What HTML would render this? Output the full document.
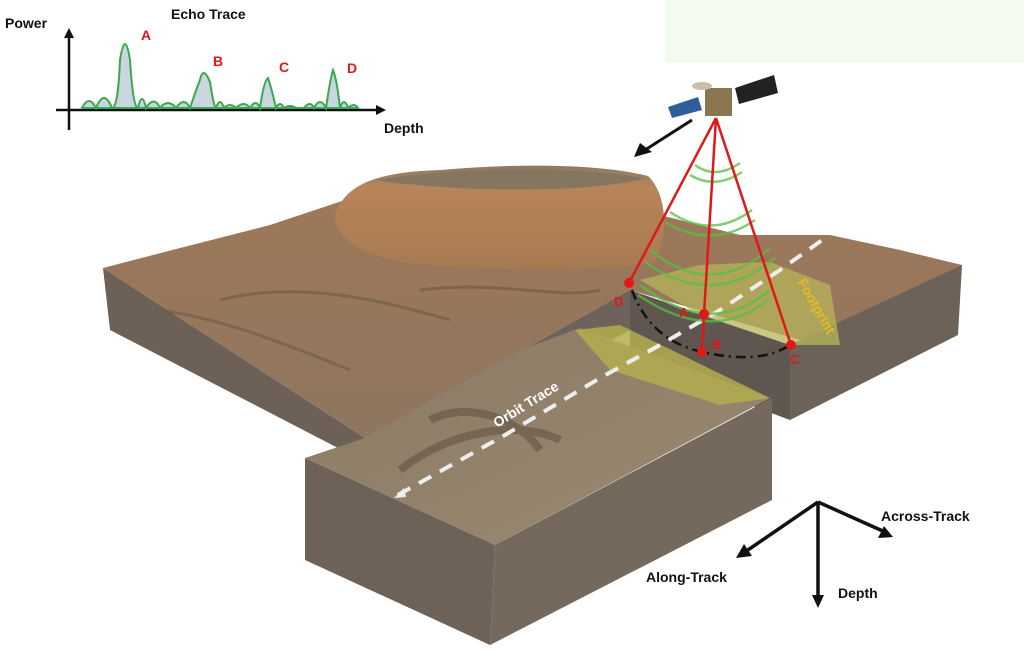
<!DOCTYPE html>
<html><head><meta charset="utf-8"><style>
html,body{margin:0;padding:0;background:#fff;width:1024px;height:657px;overflow:hidden}
svg{display:block}
text{font-family:"Liberation Sans",Arial,sans-serif;font-weight:bold}
</style></head><body>
<svg width="1024" height="657" viewBox="0 0 1024 657" xmlns="http://www.w3.org/2000/svg">
<defs>
<linearGradient id="top" x1="0" y1="0" x2="0" y2="1"><stop offset="0" stop-color="#a07858"/><stop offset="1" stop-color="#8e7660"/></linearGradient>
<linearGradient id="mesa" x1="0" y1="0" x2="0" y2="1"><stop offset="0" stop-color="#8c7a62"/><stop offset="0.2" stop-color="#b8845a"/><stop offset="1" stop-color="#a87a52"/></linearGradient>
<linearGradient id="front" x1="0" y1="0" x2="1" y2="1"><stop offset="0" stop-color="#8a7a66"/><stop offset="1" stop-color="#9a8a70"/></linearGradient>
</defs>
<rect x="665" y="0" width="359" height="63" fill="#f3fbef"/>
<!-- back block left face -->
<polygon points="103,268 365,438 365,462 110,330" fill="#6d6157"/>
<!-- back block top -->
<polygon points="103,268 180,248 270,225 345,200 380,178 450,172 560,168 640,178 660,215 740,235 830,235 900,250 962,265 940,290 800,340 630,290 365,438" fill="url(#top)"/>
<!-- mesa -->
<path d="M335,215 C345,185 375,172 440,170 C520,163 600,164 648,176 C668,195 668,235 655,262 C600,272 500,270 420,264 C365,258 335,240 335,215Z" fill="url(#mesa)"/>
<path d="M375,180 C450,168 560,164 645,178 C600,192 470,194 375,180Z" fill="#857660"/>
<path d="M220,300 C300,280 380,300 450,320 M160,310 C230,320 300,350 350,370 M420,290 C500,280 560,300 600,290" stroke="#6e5a44" stroke-width="3" fill="none" opacity="0.6"/>
<!-- step face between blocks -->
<polygon points="365,438 630,290 630,330 370,470" fill="#6f625a"/>
<!-- right block faces -->
<polygon points="630,290 790,345 790,420 630,360" fill="#5f5650"/>
<polygon points="790,345 962,265 958,335 790,420" fill="#6d6258"/>
<!-- green footprint on right block -->
<polygon points="640,280 700,265 770,262 830,285 840,345 790,345 700,315" fill="#b7b45a" opacity="0.75"/>
<!-- front block -->
<polygon points="305,458 365,438 440,395 520,350 580,328 770,398 495,545" fill="url(#front)"/>
<polygon points="575,330 620,325 770,398 720,405 610,370" fill="#b3ad4e" opacity="0.85"/>
<path d="M400,470 C450,430 520,420 560,440 M430,420 C470,400 520,420 540,450" stroke="#5a4a3c" stroke-width="8" fill="none" opacity="0.5"/>
<polygon points="305,458 495,545 490,645 305,560" fill="#6e6158"/>
<polygon points="495,545 772,398 772,500 490,645" fill="#75685d"/>
<!-- orbit trace -->
<path d="M398,495 L505,435 L600,378 L660,345 L720,310 L780,270 L825,238" stroke="#eeeeee" stroke-width="4" stroke-dasharray="14,10" fill="none"/>
<polygon points="394,498 404,488 406,497" fill="#eee"/>
<text x="0" y="0" transform="translate(497,428) rotate(-32)" font-size="14" fill="#fff">Orbit Trace</text>
<text x="0" y="0" transform="translate(797,282) rotate(60)" font-size="14" fill="#e8b820">Footprint</text>
<!-- green waves -->
<g stroke="#56c040" stroke-width="2.5" fill="none" opacity="0.75">
<path d="M695,165 Q715,180 740,163"/><path d="M690,175 Q715,190 742,172"/>
<path d="M670,212 Q712,240 752,210"/><path d="M665,222 Q712,250 755,220"/>
<path d="M650,250 Q712,300 770,248"/><path d="M645,262 Q712,310 775,258"/>
<path d="M640,285 Q712,340 770,290"/><path d="M638,295 Q712,345 768,300"/>
</g>
<!-- red beams -->
<g stroke="#e01818" stroke-width="2.5">
<line x1="716" y1="118" x2="629" y2="283"/>
<line x1="716" y1="118" x2="704" y2="314"/>
<line x1="716" y1="118" x2="791" y2="345"/>
<line x1="704" y1="314" x2="702" y2="352"/>
</g>
<path d="M632,290 Q650,340 702,352 Q760,365 790,345" stroke="#111" stroke-width="2.5" stroke-dasharray="10,5,2,5" fill="none"/>
<g fill="#e01818"><circle cx="629" cy="283" r="5"/><circle cx="704" cy="314" r="5"/><circle cx="702" cy="352" r="5"/><circle cx="791" cy="345" r="5"/></g>
<g fill="#e01818" font-size="13"><text x="614" y="306">D</text><text x="679" y="317">A</text><text x="712" y="349">B</text><text x="790" y="364">C</text></g>
<!-- satellite -->
<polygon points="668,107 698,97 702,110 672,118" fill="#2f5f9a"/>
<polygon points="735,88 774,75 778,93 739,104" fill="#222"/>
<rect x="705" y="88" width="27" height="28" fill="#8a7650"/>
<ellipse cx="702" cy="86" rx="10" ry="4" fill="#c8bfa8"/>
<!-- movement arrow -->
<line x1="692" y1="120" x2="645" y2="150" stroke="#111" stroke-width="3"/>
<polygon points="634,157 640,143 652,152" fill="#111"/>
<!-- axes -->
<g stroke="#111" stroke-width="3.5" fill="none"><line x1="818" y1="502" x2="745" y2="552"/><line x1="818" y1="502" x2="818" y2="598"/><line x1="818" y1="502" x2="885" y2="532"/></g>
<polygon points="736,558 744,544 752,556" fill="#111"/><polygon points="812,595 824,595 818,608" fill="#111"/><polygon points="893,537 878,538 884,526" fill="#111"/>
<text x="646" y="582" font-size="14" fill="#111">Along-Track</text>
<text x="838" y="598" font-size="14" fill="#111">Depth</text>
<text x="881" y="521" font-size="14" fill="#111">Across-Track</text>
<!-- echo trace -->
<text x="171" y="19" font-size="14" fill="#111">Echo Trace</text>
<text x="5" y="28" font-size="14" fill="#111">Power</text>
<text x="384" y="133" font-size="14" fill="#111">Depth</text>
<line x1="69" y1="36" x2="69" y2="130" stroke="#111" stroke-width="2.5"/>
<polygon points="64,38 74,38 69,28" fill="#111"/>
<line x1="56" y1="110" x2="378" y2="110" stroke="#111" stroke-width="2.5"/>
<polygon points="376,105 376,115 386,110" fill="#111"/>
<path d="M82,108 Q89,94 96,108 Q104,88 112,108 Q118,108 120,60 Q125,28 130,60 Q133,108 138,108 Q142,90 146,108 Q154,95 160,108 Q168,98 176,108 Q184,96 190,108 Q196,90 200,80 Q203,65 210,82 Q214,108 216,108 Q220,96 224,108 Q230,102 236,108 Q244,100 250,108 Q256,98 260,108 Q264,80 268,78 Q272,90 276,108 Q280,100 284,108 Q290,104 296,108 L304,108 Q310,100 314,108 Q320,96 326,108 Q330,80 333,70 Q337,80 340,108 Q344,96 348,108 Q354,102 358,108Z" fill="#c9d6df" stroke="#3aa850" stroke-width="2"/>
<g fill="#e01818" font-size="14"><text x="141" y="40">A</text><text x="213" y="66">B</text><text x="279" y="72">C</text><text x="347" y="73">D</text></g>
</svg>
</body></html>
